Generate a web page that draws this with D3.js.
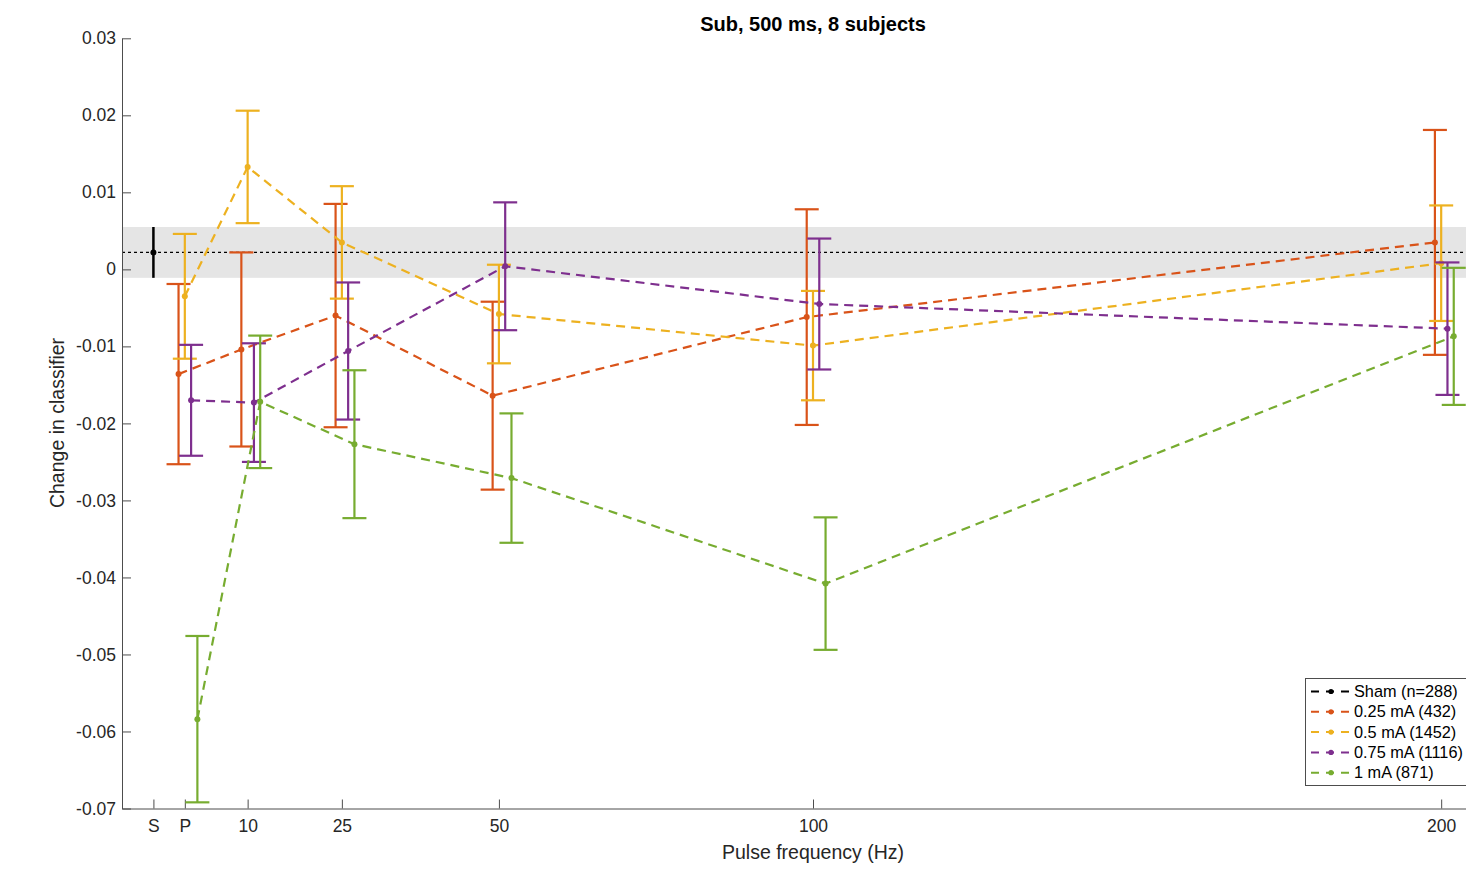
<!DOCTYPE html>
<html>
<head>
<meta charset="utf-8">
<script src="https://cdn.jsdelivr.net/npm/d3@7"></script>
<style>
  body { margin: 0; background: #fff; }
  svg { display: block; font-family: "Liberation Sans", Arial, Helvetica, sans-serif; }
</style>
</head>
<body>
<div class="graph"></div>
<script>
// pulse frequencies (Hz), P = 0, S (sham) = -5
var freqs = [0, 10, 25, 50, 100, 200]
var xTickValues = [-5, 0, 10, 25, 50, 100, 200]
var xTickLabels = ["S", "P", "10", "25", "50", "100", "200"]
var yTickValues = [-0.07, -0.06, -0.05, -0.04, -0.03, -0.02, -0.01, 0, 0.01, 0.02, 0.03]

var shamX = -5
var shamMean = 0.0022
var shamErr = 0.0033

var seriesNames = ["0.25 mA (432)", "0.5 mA (1452)", "0.75 mA (1116)", "1 mA (871)"]
var seriesShift = [-1, 0, 1, 2]

var mean025 = [-0.0136, -0.0104, -0.0060, -0.0164, -0.0062, 0.0035]
var err025  = [0.0117, 0.0126, 0.0145, 0.0122, 0.0140, 0.0146]
var mean05  = [-0.0035, 0.0133, 0.0035, -0.0058, -0.0099, 0.0008]
var err05   = [0.0081, 0.0073, 0.0073, 0.0064, 0.0071, 0.0075]
var mean075 = [-0.0170, -0.0173, -0.0106, 0.0004, -0.0045, -0.0077]
var err075  = [0.0072, 0.0077, 0.0089, 0.0083, 0.0085, 0.0086]
var mean1   = [-0.0584, -0.0172, -0.0227, -0.0271, -0.0408, -0.0087]
var err1    = [0.0108, 0.0086, 0.0096, 0.0084, 0.0086, 0.0089]

var colors = ["#D95319", "#EDB120", "#7E2F8E", "#77AC30"]
var means = [mean025, mean05, mean075, mean1]
var errs = [err025, err05, err075, err1]

var w = 1466
var h = 876
var svg = d3.select(".graph").append("svg")
  .attr("width", w)
  .attr("height", h)

var x = d3.scaleLinear().domain([-10, 210]).range([122, 1504])
var y = d3.scaleLinear().domain([-0.07, 0.03]).range([808.5, 38.3])
var axisColor = "#4d4d4d"
var textColor = "#262626"

// sham band
svg.append("rect")
  .attr("x", x(-10))
  .attr("y", y(shamMean + shamErr))
  .attr("width", x(210) - x(-10))
  .attr("height", y(shamMean - shamErr) - y(shamMean + shamErr))
  .attr("fill", "#e5e5e5")

svg.append("line")
  .attr("x1", x(-10)).attr("x2", x(210))
  .attr("y1", y(shamMean)).attr("y2", y(shamMean))
  .attr("stroke", "#000")
  .attr("stroke-width", 1.3)
  .attr("stroke-dasharray", "3,3")

// axes
var yAxis = d3.axisLeft(y).tickValues(yTickValues)
  .tickSize(-9).tickSizeOuter(0)
  .tickFormat(function(d){ return d3.format("")(+d.toFixed(2)).replace("−", "-") })
var gy = svg.append("g").attr("transform", "translate(" + x(-10) + ",0)").call(yAxis)
gy.select(".domain").attr("stroke", axisColor)
gy.selectAll(".tick line").attr("stroke", axisColor)
gy.selectAll(".tick text").attr("x", -6).attr("fill", textColor)
  .style("font-size", "17.5px")

var xAxis = d3.axisBottom(x).tickValues(xTickValues)
  .tickSize(-9).tickSizeOuter(0)
  .tickFormat(function(d, i){ return xTickLabels[i] })
var gx = svg.append("g").attr("transform", "translate(0," + y(-0.07) + ")").call(xAxis)
gx.select(".domain").attr("stroke", axisColor)
gx.selectAll(".tick line").attr("stroke", axisColor)
gx.selectAll(".tick text").attr("y", 11).attr("fill", textColor)
  .style("font-size", "17.5px")

// sham error bar
svg.append("line")
  .attr("x1", x(shamX)).attr("x2", x(shamX))
  .attr("y1", y(shamMean + shamErr)).attr("y2", y(shamMean - shamErr))
  .attr("stroke", "#000").attr("stroke-width", 2.5)
svg.append("circle")
  .attr("cx", x(shamX)).attr("cy", y(shamMean)).attr("r", 3).attr("fill", "#000")

// series
var capHalf = 12
for (var s = 0; s < means.length; s++) {
  var pts = freqs.map(function(f, i){
    return { f: f + seriesShift[s], m: means[s][i], e: errs[s][i] }
  })
  var g = svg.append("g")
  g.append("path")
    .datum(pts)
    .attr("fill", "none")
    .attr("stroke", colors[s])
    .attr("stroke-width", 2.2)
    .attr("stroke-dasharray", "9,6")
    .attr("d", d3.line().x(function(d){ return x(d.f) }).y(function(d){ return y(d.m) }))

  var eb = g.selectAll(".eb").data(pts).enter().append("g")
  eb.append("line")
    .attr("x1", function(d){ return x(d.f) }).attr("x2", function(d){ return x(d.f) })
    .attr("y1", function(d){ return y(d.m + d.e) }).attr("y2", function(d){ return y(d.m - d.e) })
    .attr("stroke", colors[s]).attr("stroke-width", 2.2)
  eb.append("line")
    .attr("x1", function(d){ return x(d.f) - capHalf }).attr("x2", function(d){ return x(d.f) + capHalf })
    .attr("y1", function(d){ return y(d.m + d.e) }).attr("y2", function(d){ return y(d.m + d.e) })
    .attr("stroke", colors[s]).attr("stroke-width", 2.2)
  eb.append("line")
    .attr("x1", function(d){ return x(d.f) - capHalf }).attr("x2", function(d){ return x(d.f) + capHalf })
    .attr("y1", function(d){ return y(d.m - d.e) }).attr("y2", function(d){ return y(d.m - d.e) })
    .attr("stroke", colors[s]).attr("stroke-width", 2.2)
  eb.append("circle")
    .attr("cx", function(d){ return x(d.f) }).attr("cy", function(d){ return y(d.m) })
    .attr("r", 3).attr("fill", colors[s])
}

// title and labels
svg.append("text")
  .attr("x", 813).attr("y", 31)
  .attr("text-anchor", "middle")
  .attr("font-weight", "bold")
  .attr("fill", "#000")
  .style("font-size", "20px")
  .text("Sub, 500 ms, 8 subjects")

svg.append("text")
  .attr("x", 813).attr("y", 859)
  .attr("text-anchor", "middle")
  .attr("fill", textColor)
  .style("font-size", "19.5px")
  .text("Pulse frequency (Hz)")

svg.append("text")
  .attr("transform", "translate(64,423) rotate(-90)")
  .attr("text-anchor", "middle")
  .attr("fill", textColor)
  .style("font-size", "19.5px")
  .text("Change in classifier")

// legend
var legNames = ["Sham (n=288)"].concat(seriesNames)
var legColors = ["#000"].concat(colors)
var leg = svg.append("g")
leg.append("rect")
  .attr("x", 1305.5).attr("y", 678.5)
  .attr("width", 200).attr("height", 107)
  .attr("fill", "#fff").attr("stroke", axisColor).attr("stroke-width", 1)
var rows = leg.selectAll(".row").data(legNames).enter().append("g")
  .attr("transform", function(d, i){ return "translate(0," + (691.5 + i * 20.3) + ")" })
rows.append("line")
  .attr("x1", 1311).attr("x2", 1350).attr("y1", 0).attr("y2", 0)
  .attr("stroke", function(d, i){ return legColors[i] })
  .attr("stroke-width", 2)
  .attr("stroke-dasharray", "8,7")
rows.append("circle")
  .attr("cx", 1331).attr("cy", 0).attr("r", 2.6)
  .attr("fill", function(d, i){ return legColors[i] })
rows.append("text")
  .attr("x", 1354).attr("y", 5.5)
  .attr("fill", "#000")
  .style("font-size", "16.3px")
  .text(function(d){ return d })
</script>
</body>
</html>
